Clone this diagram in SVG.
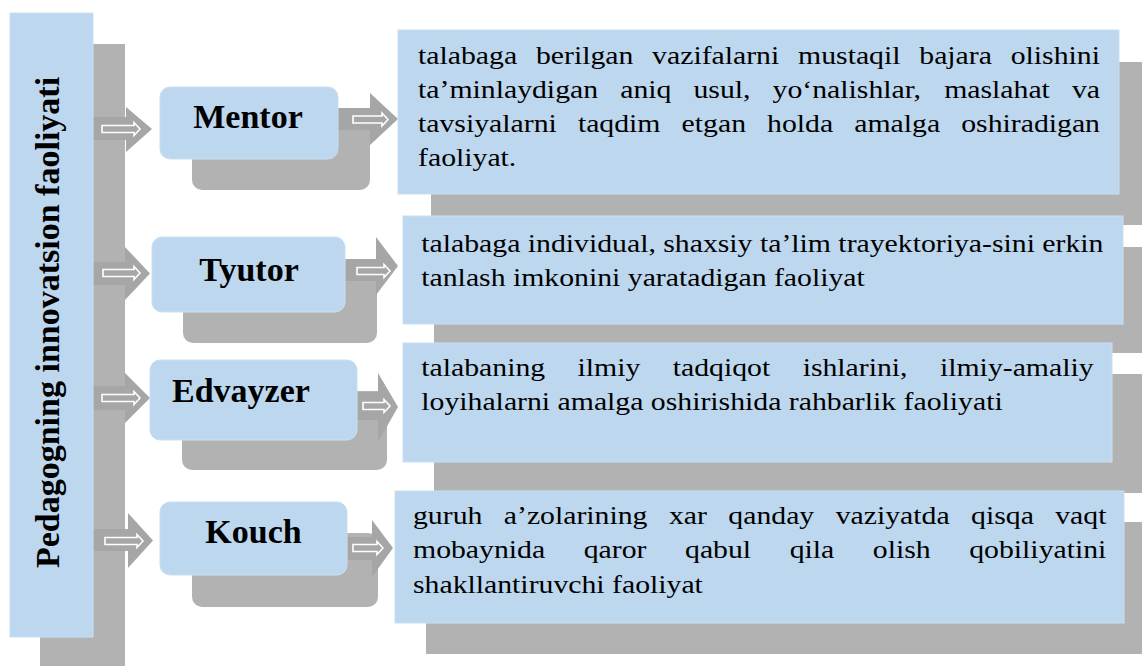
<svg xmlns="http://www.w3.org/2000/svg" width="1142" height="666" viewBox="0 0 1142 666">
<style>
.bg{fill:#ffffff}
.blue{fill:#bdd7ee;stroke:#c8dff3;stroke-width:1}
.shadow{fill:#b2b2b2}
.arrow{fill:#a6a6a6}
.sym{fill:none;stroke:#ffffff;stroke-width:1.6;stroke-linejoin:miter}
.lbl{font-family:"Liberation Serif","Times New Roman",serif;font-weight:bold;font-size:34px;fill:#000}
.body{font-family:"Liberation Serif","Times New Roman",serif;font-size:25px;fill:#000}
</style>
<rect class="bg" x="0" y="0" width="1142" height="666"/>

<!-- right box shadows -->
<g id="shadows">
<rect class="shadow" x="431" y="62" width="720" height="163"/>
<rect class="shadow" x="434" y="247" width="720" height="106"/>
<rect class="shadow" x="434" y="374" width="720" height="119"/>
<rect class="shadow" x="426" y="522" width="725" height="132"/>
<rect class="shadow" x="40" y="44" width="85" height="630"/>
<rect class="shadow" x="192" y="118" width="178" height="72" rx="10"/>
<rect class="shadow" x="183" y="268" width="194" height="75" rx="10"/>
<rect class="shadow" x="182" y="391" width="205" height="79" rx="10"/>
<rect class="shadow" x="192" y="533" width="186" height="74" rx="10"/>
</g>

<g id="connectors">
<!-- left arrows -->
<path class="arrow" d="M93 117 H126 V107 L152 129 L126 152 V140 H93 Z"/>
<path class="sym" d="M102 125.5 H134 V122.5 L140 129 L134 135.5 V132.5 H102 Z"/>
<path class="arrow" d="M93 262 H125 V247 L150 273.5 L125 300 V285 H93 Z"/>
<path class="sym" d="M103 269.5 H134 V266.5 L140 273 L134 279.5 V276.5 H103 Z"/>
<path class="arrow" d="M93 386 H125 V373 L150 398 L125 423 V410 H93 Z"/>
<path class="sym" d="M102 394.5 H134 V391.5 L140 398 L134 404.5 V401.5 H102 Z"/>
<path class="arrow" d="M93 529 H128 V513 L153 540.5 L128 568 V551 H93 Z"/>
<path class="sym" d="M105 537.5 H137 V534.5 L143 541 L137 547.5 V544.5 H105 Z"/>
<!-- right arrows -->
<path class="arrow" d="M338 108 H370 V93 L398 119 L370 145 V130 H338 Z"/>
<path class="sym" d="M353 116 H382 V113 L388 119.5 L382 126 V123 H353 Z"/>
<path class="arrow" d="M345 259 H376 V237 L398 266 L376 295 V281 H345 Z"/>
<path class="sym" d="M357 267.5 H384 V264.5 L390 271 L384 277.5 V274.5 H357 Z"/>
<path class="arrow" d="M355 392 H378 V373 L398 407 L378 442 V420 H355 Z"/>
<path class="sym" d="M363 402.5 H384 V399.5 L390 406 L384 412.5 V409.5 H363 Z"/>
<path class="arrow" d="M347 537 H372 V520 L393 548 L372 577 V560 H347 Z"/>
<path class="sym" d="M353 544.5 H377 V541.5 L383 548 L377 554.5 V551.5 H353 Z"/>
</g>

<g id="main">
<rect class="blue" x="10" y="13" width="83" height="624"/>
<text class="lbl" transform="translate(59 322.5) rotate(-90)" text-anchor="middle">Pedagogning innovatsion faoliyati</text>
</g>

<g id="mentor">
<rect class="blue" x="160" y="87" width="178" height="72" rx="10"/>
<text class="lbl" x="248" y="128" text-anchor="middle">Mentor</text>
</g>
<g id="tyutor">
<rect class="blue" x="152" y="237" width="193" height="75" rx="10"/>
<text class="lbl" x="249" y="281" text-anchor="middle">Tyutor</text>
</g>
<g id="edvayzer">
<rect class="blue" x="150" y="360" width="207" height="80" rx="10"/>
<text class="lbl" x="172" y="402">Edvayzer</text>
</g>
<g id="kouch">
<rect class="blue" x="160" y="502" width="187" height="73" rx="10"/>
<text class="lbl" x="253.5" y="543" text-anchor="middle">Kouch</text>
</g>

<g id="desc-mentor">
<rect class="blue" x="398" y="30" width="721" height="164"/>
<g transform="scale(1.19 1)">
<text class="body" y="64"><tspan x="351.3">talabaga</tspan><tspan x="450.35">berilgan</tspan><tspan x="548">vazifalarni</tspan><tspan x="670.65">mustaqil</tspan><tspan x="772.5">bajara</tspan><tspan x="849.3">olishini</tspan></text>
<text class="body" y="98"><tspan x="351.3">ta’minlaydigan</tspan><tspan x="521.2">aniq</tspan><tspan x="582.77">usul,</tspan><tspan x="649.22">yo‘nalishlar,</tspan><tspan x="793.42">maslahat</tspan><tspan x="900.82">va</tspan></text>
<text class="body" y="132"><tspan x="351.3">tavsiyalarni</tspan><tspan x="485.64">taqdim</tspan><tspan x="572.78">etgan</tspan><tspan x="644.62">holda</tspan><tspan x="717.86">amalga</tspan><tspan x="807.75">oshiradigan</tspan></text>
<text class="body" x="351.3" y="166">faoliyat.</text>
</g>
</g>

<g id="desc-tyutor">
<rect class="blue" x="403" y="216" width="720" height="108"/>
<g transform="scale(1.19 1)">
<text class="body" x="354.03" y="252">talabaga individual, shaxsiy ta’lim trayektoriya-sini erkin</text>
<text class="body" x="354.03" y="286">tanlash imkonini yaratadigan faoliyat</text>
</g>
</g>

<g id="desc-edvayzer">
<rect class="blue" x="403" y="343" width="709" height="119"/>
<g transform="scale(1.19 1)">
<text class="body" y="376"><tspan x="354.03">talabaning</tspan><tspan x="485.37">ilmiy</tspan><tspan x="565.36">tadqiqot</tspan><tspan x="674.5">ishlarini,</tspan><tspan x="789.89">ilmiy-amaliy</tspan></text>
<text class="body" x="354.03" y="410">loyihalarni amalga oshirishida rahbarlik faoliyati</text>
</g>
</g>

<g id="desc-kouch">
<rect class="blue" x="395" y="491" width="729" height="132"/>
<g transform="scale(1.19 1)">
<text class="body" y="524"><tspan x="347.06">guruh</tspan><tspan x="423.37">a’zolarining</tspan><tspan x="562.15">xar</tspan><tspan x="612.06">qanday</tspan><tspan x="702.24">vaziyatda</tspan><tspan x="816.02">qisqa</tspan><tspan x="886.78">vaqt</tspan></text>
<text class="body" y="558.5"><tspan x="347.06">mobaynida</tspan><tspan x="490.54">qaror</tspan><tspan x="575.67">qabul</tspan><tspan x="663.6">qila</tspan><tspan x="733.48">olish</tspan><tspan x="814.49">qobiliyatini</tspan></text>
<text class="body" x="347.06" y="593">shakllantiruvchi faoliyat</text>
</g>
</g>
</svg>
